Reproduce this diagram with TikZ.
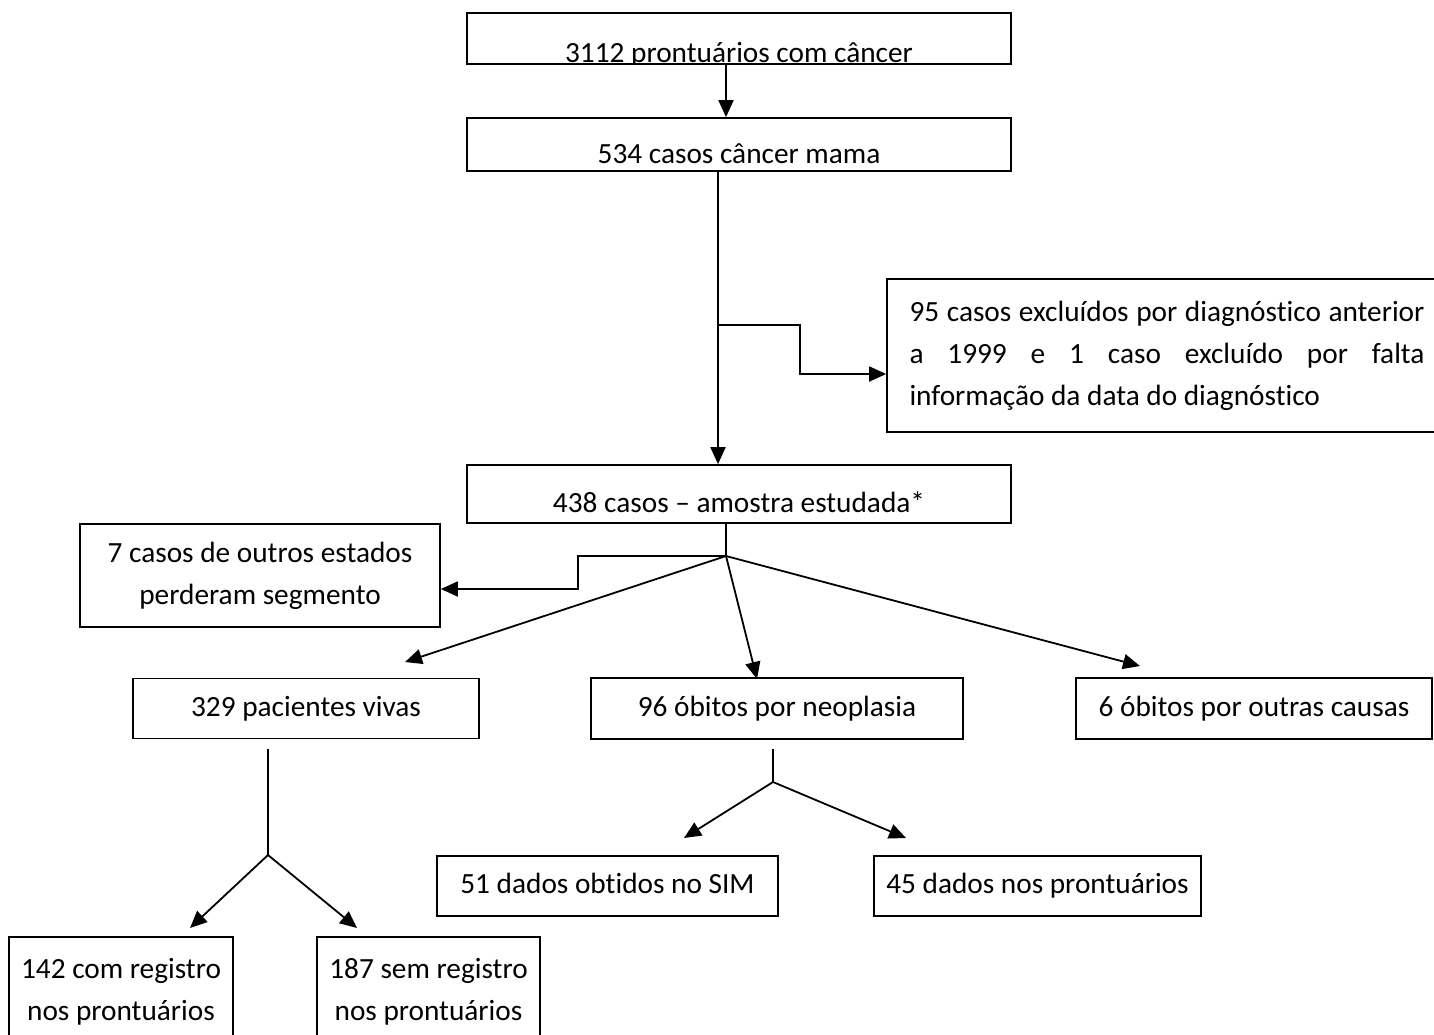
\documentclass[tikz,border=0pt]{standalone}
\usepackage{fontspec}
\setmainfont[Ligatures=CommonOff]{Carlito}
\usetikzlibrary{positioning,arrows.meta}

\begin{document}
\begin{tikzpicture}[
    x=1pt, y=-1pt,
    box/.style={draw, line width=1.7pt, inner sep=0pt, font=\fontsize{29.3}{42}\selectfont},
    single/.style={box, text height=22pt, text depth=7pt},
    flow/.style={draw, line width=1.8pt},
    arrow/.style={flow, -{Triangle[length=17pt, width=15pt]}}
]
\clip (0,0) rectangle (1434,1034);

% Main column
\begin{scope}
\clip (440,0) rectangle (1040,64.8);
\node[box, minimum width=544pt, text height=49pt, text depth=2pt] (total) at (739,38.5) {3112 prontuários com câncer};
\end{scope}
\node[box, minimum width=544pt, text height=45pt, text depth=8pt] (mama) at (739,144.5) {534 casos câncer mama};
\node[box, minimum width=544pt, text height=47pt, text depth=11pt] (amostra) at (739,494) {438 casos – amostra estudada*};

% Exclusions
\node[box, minimum width=560pt, minimum height=153pt, text width=515pt, align=justify, inner xsep=22pt] (excl) at (1167,355.5)
    {\hyphenpenalty=10000 95 casos excluídos por diagnóstico anterior a 1999 e 1 caso excluído por falta informação da data do diagnóstico\par};
\node[box, minimum width=360pt, minimum height=103pt, align=center] (perdidos) at (260,575.5) {7 casos de outros estados\\perderam segmento};

% Outcomes
\node[single, minimum width=346pt, minimum height=60pt] (vivas) at (306,708.5) {329 pacientes vivas};
\node[single, minimum width=372pt, minimum height=61pt] (neoplasia) at (777,708.5) {96 óbitos por neoplasia};
\node[single, minimum width=356pt, minimum height=61pt] (outras) at (1254,708.5) {6 óbitos por outras causas};

\node[single, minimum width=341pt, minimum height=60pt] (sim) at (607.5,886) {51 dados obtidos no SIM};
\node[single, minimum width=327pt, minimum height=60pt] (pront) at (1037.5,886) {45 dados nos prontuários};

\node[box, minimum width=224pt, minimum height=110pt, align=center] (com) at (121,992) {142 com registro\\nos prontuários};
\node[box, minimum width=223pt, minimum height=110pt, align=center] (sem) at (428.5,992) {187 sem registro\\nos prontuários};

% Junction points
\coordinate (exclsplit) at (718,325);
\coordinate (split) at (726,556);
\coordinate (tipvivas) at (405,662);
\coordinate (tipneo) at (757,679);
\coordinate (tipoutras) at (1140,666);
\coordinate (vivastop) at (268,749);
\coordinate (vivassplit) at (268,855);
\coordinate (tipcom) at (190,928);
\coordinate (tipsem) at (357,928);
\coordinate (neotop) at (773,749);
\coordinate (neosplit) at (773,782);
\coordinate (tipsim) at (684,838);
\coordinate (tippront) at (906,838);

% Connectors
\draw[arrow] ([xshift=-13pt]total.south) -- ([xshift=-13pt]mama.north);
\draw[arrow] ([xshift=-21pt]mama.south) -- ([xshift=-21pt]amostra.north);
\draw[arrow] (exclsplit) -| ++(82,49) -- ([yshift=-18.5pt]excl.west);

\draw[flow] ([xshift=-13pt]amostra.south) -- (split);
\draw[arrow] (split) -| ++(-148,33) -- ([yshift=-13.5pt]perdidos.east);
\draw[arrow] (split) -- (tipvivas);
\draw[arrow] (split) -- (tipneo);
\draw[arrow] (split) -- (tipoutras);

\draw[flow] (vivastop) -- (vivassplit);
\draw[arrow] (vivassplit) -- (tipcom);
\draw[arrow] (vivassplit) -- (tipsem);

\draw[flow] (neotop) -- (neosplit);
\draw[arrow] (neosplit) -- (tipsim);
\draw[arrow] (neosplit) -- (tippront);

\end{tikzpicture}
\end{document}
